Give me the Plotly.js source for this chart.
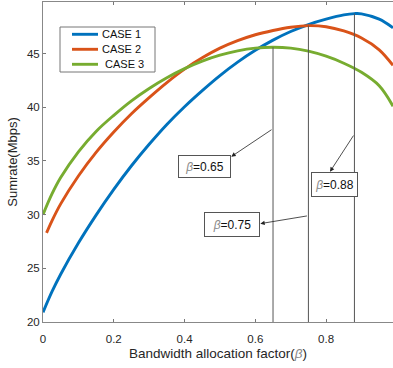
<!DOCTYPE html>
<html>
<head>
<meta charset="utf-8">
<script src="https://cdn.plot.ly/plotly-3.0.1.min.js"></script>
<style>html,body{margin:0;padding:0;background:#fff;}#chart{width:393px;height:368px;}</style>
</head>
<body>
<div id="chart"></div>
<script>
// Bandwidth allocation factor (beta) sample points
const betaCase1 = [0, 0.025, 0.05, 0.1, 0.15, 0.2, 0.25, 0.3, 0.35, 0.4, 0.45, 0.5, 0.55, 0.6, 0.65, 0.7, 0.75, 0.8, 0.85, 0.88, 0.9, 0.95, 0.989];
const sumrateCase1 = [20.9, 22.8, 24.45, 27.35, 29.95, 32.35, 34.55, 36.55, 38.4, 40.05, 41.55, 42.95, 44.2, 45.3, 46.25, 47.05, 47.7, 48.2, 48.6, 48.72, 48.7, 48.2, 47.4];

const betaCase2 = [0.01, 0.025, 0.05, 0.1, 0.15, 0.2, 0.25, 0.3, 0.35, 0.4, 0.45, 0.5, 0.55, 0.6, 0.65, 0.7, 0.75, 0.8, 0.85, 0.9, 0.95, 0.989];
const sumrateCase2 = [28.3, 29.4, 31.0, 33.6, 35.8, 37.7, 39.4, 40.9, 42.3, 43.55, 44.6, 45.5, 46.2, 46.75, 47.15, 47.45, 47.6, 47.5, 47.1, 46.45, 45.35, 43.9];

const betaCase3 = [0, 0.025, 0.05, 0.1, 0.15, 0.2, 0.25, 0.3, 0.35, 0.4, 0.45, 0.5, 0.55, 0.6, 0.65, 0.7, 0.75, 0.8, 0.85, 0.9, 0.95, 0.989];
const sumrateCase3 = [30.0, 31.9, 33.45, 35.85, 37.75, 39.25, 40.6, 41.75, 42.75, 43.6, 44.3, 44.85, 45.25, 45.5, 45.58, 45.5, 45.22, 44.75, 44.1, 43.25, 42.0, 40.1];

const seriesNames = ["CASE 1", "CASE 2", "\u00A0CASE 3"];
const seriesColors = ["#0072BD", "#D95319", "#77AC30"];

// Optimal beta markers (vertical drop lines)
const optBeta = [0.65, 0.75, 0.88];
const optSumrate = [45.58, 47.6, 48.72];
const optLabels = ["0.65", "0.75", "0.88"];
// label box centres and arrow tips (data coords)
const boxX = [0.455, 0.535, 0.824];
const boxY = [34.5, 29.1, 32.85];
const arrowTailY = [38.0, 29.9, 37.5];
const arrowHeadX = [0.532, 0.614, 0.811];
const arrowHeadY = [35.4, 29.16, 34.0];
const boxW = [51, 54, 45];
const boxH = [21, 23, 23];

const xTicks = [0, 0.2, 0.4, 0.6, 0.8];
const xTickText = ["0", "0.2", "0.4", "0.6", "0.8"];
const yTicks = [20, 25, 30, 35, 40, 45];

const FONT = "Liberation Sans, Arial, sans-serif";

const betas = [betaCase1, betaCase2, betaCase3];
const rates = [sumrateCase1, sumrateCase2, sumrateCase3];

const traces = [];
for (let i = 0; i < 3; i++) {
  traces.push({
    x: betas[i], y: rates[i], type: "scatter", mode: "lines",
    name: seriesNames[i], showlegend: false,
    line: {color: seriesColors[i], width: 2.9, shape: "spline", smoothing: 1},
    hoverinfo: "skip"
  });
}
for (let i = 0; i < optBeta.length; i++) {
  traces.push({
    x: [optBeta[i], optBeta[i]], y: [20, optSumrate[i]],
    type: "scatter", mode: "lines", showlegend: false,
    line: {color: "#555555", width: 1}, hoverinfo: "skip"
  });
}

const annotations = [];
for (let i = 0; i < optBeta.length; i++) {
  annotations.push({
    x: arrowHeadX[i], y: arrowHeadY[i], xref: "x", yref: "y",
    ax: optBeta[i], ay: arrowTailY[i], axref: "x", ayref: "y",
    text: "", showarrow: true, arrowhead: 2, arrowsize: 1.1, arrowwidth: 0.8,
    arrowcolor: "#222", standoff: 0, startstandoff: 0
  });
  annotations.push({
    x: boxX[i], y: boxY[i], xref: "x", yref: "y", showarrow: false,
    text: '<i><span style="color:#888888">β</span></i>=' + optLabels[i],
    font: {family: FONT, size: 12, color: "#111"},
    bordercolor: "#555555", borderwidth: 1, borderpad: 0,
    bgcolor: "#ffffff", width: boxW[i], height: boxH[i],
    xanchor: "center", yanchor: "middle", align: "center", valign: "middle"
  });
}

// Legend (drawn in paper coordinates to match the compact MATLAB legend)
const plotL = 43, plotW = 350, plotB = 322, plotH = 320;
const px = v => (v - plotL) / plotW;
const py = v => (plotB - v) / plotH;
const shapes = [{
  type: "rect", xref: "paper", yref: "paper",
  x0: px(60), x1: px(155), y0: py(72), y1: py(27),
  line: {color: "#777777", width: 1}, fillcolor: "#ffffff", layer: "above"
}];
const legendRows = [34.3, 49.3, 64.3];
for (let i = 0; i < 3; i++) {
  shapes.push({
    type: "line", xref: "paper", yref: "paper",
    x0: px(72), x1: px(98), y0: py(legendRows[i]), y1: py(legendRows[i]),
    line: {color: seriesColors[i], width: 2.9}, layer: "above"
  });
  annotations.push({
    x: px(100), y: py(legendRows[i]), xref: "paper", yref: "paper",
    xanchor: "left", yanchor: "middle", showarrow: false,
    text: seriesNames[i], font: {family: FONT, size: 11, color: "#111"}
  });
}

const layout = {
  width: 393, height: 368,
  margin: {l: 43, r: 0, t: 2, b: 46},
  paper_bgcolor: "#ffffff", plot_bgcolor: "#ffffff",
  font: {family: FONT, color: "#262626"},
  showlegend: false,
  xaxis: {
    range: [0, 0.989], tickvals: xTicks, ticktext: xTickText,
    ticks: "inside", ticklen: 3, tickcolor: "#777", tickwidth: 1,
    showline: true, linecolor: "#888", linewidth: 1, mirror: "ticks",
    showgrid: false, zeroline: false, ticklabelstandoff: 6,
    tickfont: {family: FONT, size: 11.5, color: "#262626"},
    title: {text: 'Bandwidth allocation factor(<i><span style="color:#888888">β</span></i>)', font: {family: FONT, size: 13.5, color: "#262626"}, standoff: 4}
  },
  yaxis: {
    range: [20, 49.8], tickvals: yTicks,
    ticks: "inside", ticklen: 3, tickcolor: "#777", tickwidth: 1,
    showline: true, linecolor: "#888", linewidth: 1, mirror: false,
    showgrid: false, zeroline: false,
    tickfont: {family: FONT, size: 11.5, color: "#262626"},
    title: {text: "Sumrate(Mbps)", font: {family: FONT, size: 13, color: "#262626"}, standoff: 6}
  },
  shapes: shapes,
  annotations: annotations
};

Plotly.newPlot("chart", traces, layout, {staticPlot: true, displayModeBar: false});
</script>
</body>
</html>
